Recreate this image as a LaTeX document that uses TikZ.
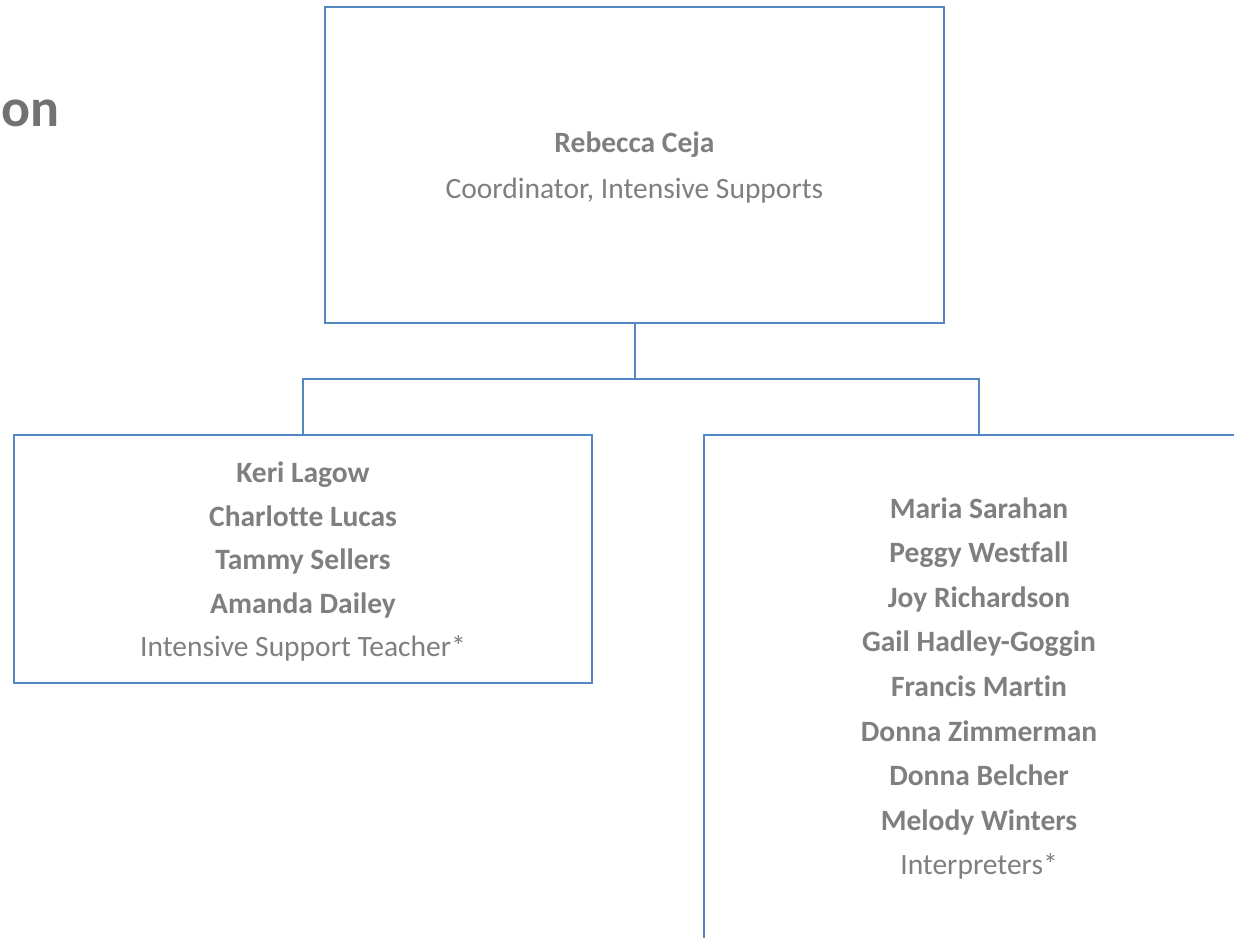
\documentclass[tikz,border=0pt]{standalone}
\usepackage{fontspec}
\setmainfont{Carlito}[Ligatures={NoCommon}]
\definecolor{linec}{RGB}{84,134,192}
\definecolor{txtc}{RGB}{127,127,127}
\definecolor{titlec}{RGB}{118,113,113}
\begin{document}
\begin{tikzpicture}[x=1pt,y=-1pt,
  orgbox/.style={draw=linec, line width=2pt, fill=white, inner sep=0pt},
  orgtext/.style={align=center, text=txtc, inner sep=0pt, yshift=-3pt},
  conn/.style={draw=linec, line width=2pt}]
\useasboundingbox (0,0) rectangle (1234,937);
\clip (0,0) rectangle (1234,937);
\fill[white] (0,0) rectangle (1234,937);
\node[anchor=base east, text=titlec, font=\fontsize{54pt}{64pt}\selectfont\bfseries, inner sep=0pt] (title) at (60,126) {on};
\node[orgbox, minimum width=619pt, minimum height=316pt] (top) at (634.5,165) {};
\node[orgbox, minimum width=578pt, minimum height=248pt] (left) at (303,559) {};
\node[orgbox, minimum width=550pt, minimum height=520pt] (right) at (979,695) {};
\node[orgtext, font=\fontsize{29.5pt}{46pt}\selectfont] (toptext) at (top.center)
  {\textbf{Rebecca Ceja}\\Coordinator, Intensive Supports};
\node[orgtext, font=\fontsize{29.5pt}{43.5pt}\selectfont] (lefttext) at (left.center)
  {\textbf{Keri Lagow}\\\textbf{Charlotte Lucas}\\\textbf{Tammy Sellers}\\\textbf{Amanda Dailey}\\Intensive Support Teacher*};
\node[orgtext, font=\fontsize{29.5pt}{44.6pt}\selectfont] (righttext) at (979,685.5)
  {\textbf{Maria Sarahan}\\\textbf{Peggy Westfall}\\\textbf{Joy Richardson}\\\textbf{Gail Hadley-Goggin}\\\textbf{Francis Martin}\\\textbf{Donna Zimmerman}\\\textbf{Donna Belcher}\\\textbf{Melody Winters}\\Interpreters*};
\coordinate (bar) at (top.south |- 0,379);
\draw[conn] (top.south) -- (bar);
\draw[conn] (left.north) |- (bar) -| (right.north);
\end{tikzpicture}
\end{document}
